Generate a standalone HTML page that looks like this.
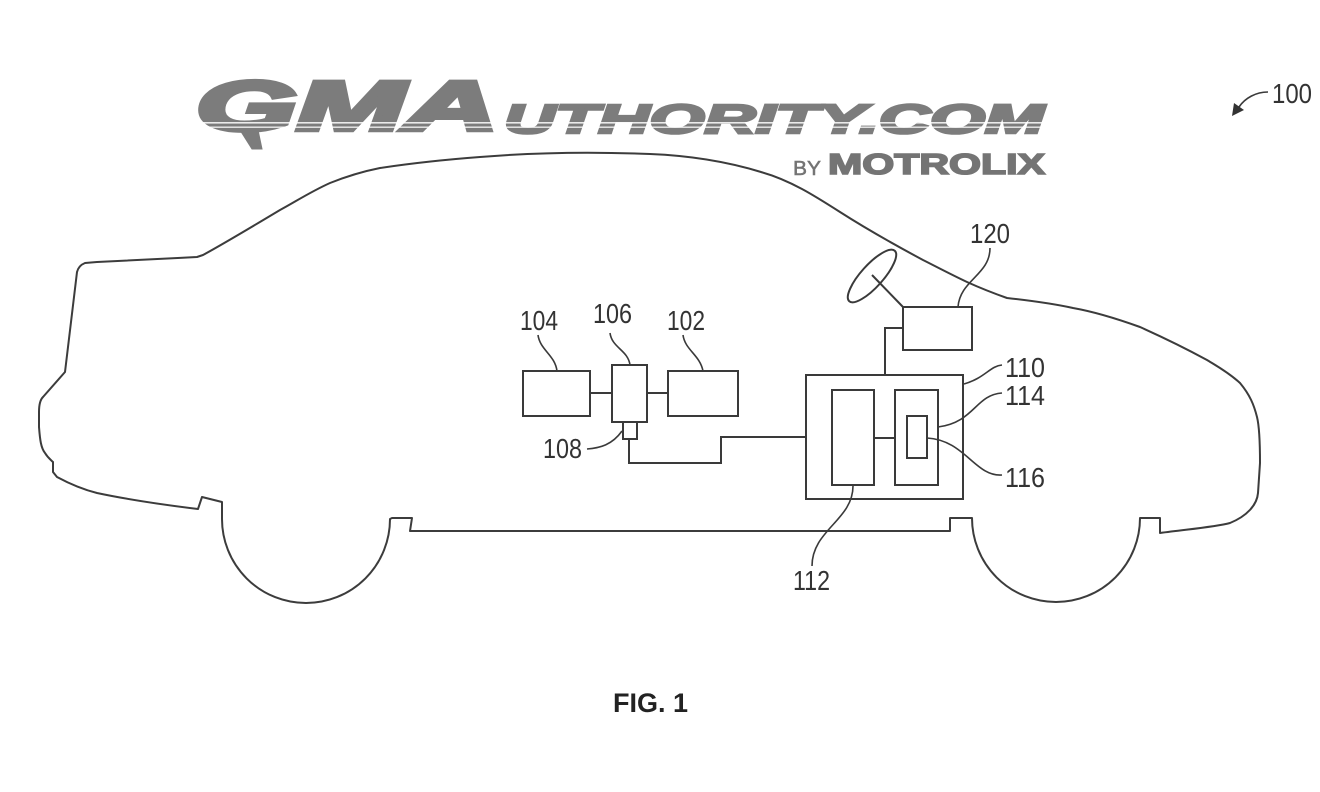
<!DOCTYPE html>
<html><head><meta charset="utf-8"><style>
html,body{margin:0;padding:0;background:#fff;}
svg{display:block;}
</style></head><body>
<svg width="1320" height="792" viewBox="0 0 1320 792" xmlns="http://www.w3.org/2000/svg">
<rect width="1320" height="792" fill="#fff"/>
<!-- Logo -->
<g fill="#7c7c7c" stroke="#7c7c7c" stroke-linejoin="miter" font-family="Liberation Sans, sans-serif" font-weight="bold" font-style="italic">
<text x="196" y="130" font-size="70" stroke-width="4.5" textLength="302" lengthAdjust="spacingAndGlyphs">GMA</text>
<text x="504" y="133" font-size="41" stroke-width="2.6" textLength="540" lengthAdjust="spacingAndGlyphs">UTHORITY.COM</text>
<polygon points="240,130 258,130 262,149 252,149" stroke-width="1"/>
</g>
<rect x="190" y="122" width="860" height="1.6" fill="#fff" opacity="0.85"/>
<rect x="190" y="126.5" width="860" height="1.4" fill="#fff" opacity="0.85"/>
<g fill="#747474" stroke="#747474" font-family="Liberation Sans, sans-serif" font-weight="bold">
<text x="793" y="175" font-size="20" font-weight="normal" stroke-width="0.5" textLength="28" lengthAdjust="spacingAndGlyphs">BY</text>
<text x="828" y="174" font-size="29" stroke-width="1.6" textLength="217" lengthAdjust="spacingAndGlyphs">MOTROLIX</text>
</g>

<!-- Car outline -->
<path fill="none" stroke="#3c3c3c" stroke-width="2" stroke-linejoin="round" d="
M410,531 L950,531 L950,518 L972,518
A84,84 0 0 0 1140,518
L1160,518 L1160,533
C1190,529 1215,527 1230,523
C1247,516 1257,505 1258,493
L1260,463
C1260,440 1259,425 1257,417
C1254,405 1250,395 1240,383
C1228,372 1215,365 1207,360
C1185,348 1160,336 1140,327
C1115,318 1090,311 1073,308
C1050,303 1025,300 1007,298
C990,292 978,287 967,282
C950,274 935,266 923,260
C895,245 865,228 840,212
C815,196 790,180 761,172
C735,164 700,156 650,154
C600,152 540,152 480,157
C440,160 400,165 380,168
C360,172 345,177 330,183
C310,192 295,202 280,210
C255,225 225,243 203,255
L197,257
C160,259 120,261 97,262
L85,263
C80,265 78,268 77,272
L65,372
L43,397
C40,400 39,405 39,412
L39,427
C40,440 41,448 45,453
C48,458 51,460 53,462
L53,472
L57,477
C70,484 85,490 97,493
C130,500 165,505 198,509
L202,497 L222,502 L222,519
A84,84 0 0 0 390,519
L392,518 L412,518 L410,531 Z"/>

<!-- Components -->
<g fill="none" stroke="#3a3a3a" stroke-width="2">
<rect x="523" y="371" width="67" height="45"/>
<rect x="612" y="365" width="35" height="57"/>
<rect x="668" y="371" width="70" height="45"/>
<rect x="623" y="422" width="14" height="17"/>
<line x1="590" y1="393" x2="612" y2="393"/>
<line x1="647" y1="393" x2="668" y2="393"/>
<polyline points="629,439 629,463 721,463 721,437 806,437"/>
<rect x="806" y="375" width="157" height="124"/>
<rect x="832" y="390" width="42" height="95"/>
<rect x="895" y="390" width="43" height="95"/>
<rect x="907" y="416" width="20" height="42"/>
<line x1="874" y1="438" x2="895" y2="438"/>
<rect x="903" y="307" width="69" height="43"/>
<polyline points="885,375 885,328 903,328"/>
<ellipse cx="872" cy="276" rx="34" ry="11" transform="rotate(-48 872 276)"/>
<line x1="872" y1="275" x2="903" y2="307"/>
</g>

<!-- Leaders -->
<g fill="none" stroke="#3a3a3a" stroke-width="1.6">
<path d="M538,335 C540,350 555,355 557,371"/>
<path d="M610,333 C612,348 628,350 630,365"/>
<path d="M683,335 C685,350 700,355 703,371"/>
<path d="M587,449 C600,448 612,445 622,431"/>
<path d="M990,248 C990,275 960,280 958,307"/>
<path d="M1002,365 C990,366 985,378 964,384"/>
<path d="M1002,393 C975,395 975,422 938,427"/>
<path d="M1002,475 C975,477 965,440 927,438"/>
<path d="M853,486 C853,520 812,530 812,566"/>
<path d="M1268,92 C1256,92 1245,98 1239,107"/>
</g>
<polygon points="1232,116 1234,103 1244,110" fill="#333"/>

<!-- Labels -->
<g fill="#333" font-family="Liberation Sans, sans-serif" font-size="28">
<text x="520" y="330" textLength="38" lengthAdjust="spacingAndGlyphs">104</text>
<text x="593" y="323" textLength="39" lengthAdjust="spacingAndGlyphs">106</text>
<text x="667" y="330" textLength="38" lengthAdjust="spacingAndGlyphs">102</text>
<text x="543" y="458" textLength="39" lengthAdjust="spacingAndGlyphs">108</text>
<text x="970" y="243" textLength="40" lengthAdjust="spacingAndGlyphs">120</text>
<text x="1005" y="377" textLength="40" lengthAdjust="spacingAndGlyphs">110</text>
<text x="1005" y="405" textLength="40" lengthAdjust="spacingAndGlyphs">114</text>
<text x="1005" y="487" textLength="40" lengthAdjust="spacingAndGlyphs">116</text>
<text x="793" y="590" textLength="37" lengthAdjust="spacingAndGlyphs">112</text>
<text x="1272" y="103" textLength="40" lengthAdjust="spacingAndGlyphs">100</text>
</g>
<text x="613" y="712" fill="#222" font-family="Liberation Sans, sans-serif" font-weight="bold" font-size="27" textLength="75" lengthAdjust="spacingAndGlyphs">FIG. 1</text>
</svg>
</body></html>
